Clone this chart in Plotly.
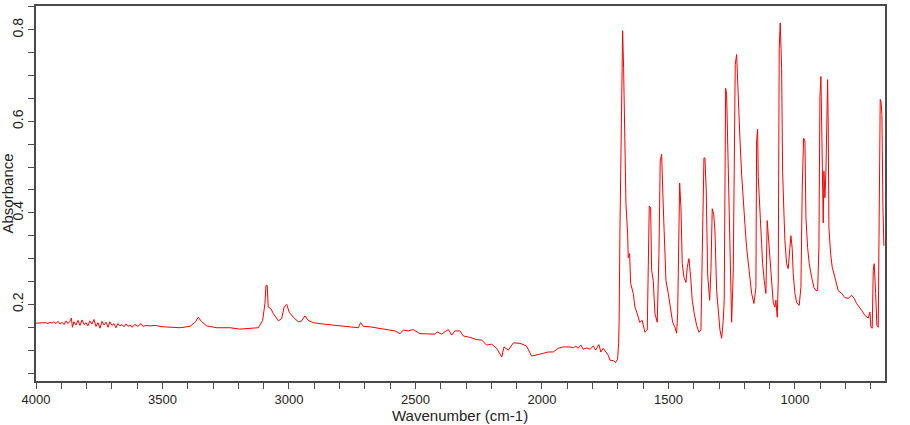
import plotly.graph_objects as go

# Region 1: noisy high-wavenumber baseline
wn_noise = [4000, 3984, 3968, 3961, 3953, 3945, 3937, 3929, 3921, 3913,
            3905, 3897, 3889, 3881, 3874, 3866, 3860, 3856, 3850, 3842,
            3834, 3826, 3818, 3810, 3802, 3795, 3787, 3779, 3771, 3763,
            3755, 3747, 3739, 3731, 3723, 3715, 3708, 3700, 3692, 3684,
            3676, 3668, 3660, 3652, 3644, 3636, 3628, 3621, 3609, 3597,
            3585, 3577, 3565, 3549, 3530]
ab_noise = [0.159, 0.159, 0.159, 0.160, 0.158, 0.161, 0.159, 0.162, 0.158, 0.163,
            0.157, 0.161, 0.156, 0.164, 0.158, 0.163, 0.170, 0.150, 0.162, 0.155,
            0.165, 0.154, 0.166, 0.156, 0.160, 0.153, 0.164, 0.157, 0.167, 0.152,
            0.160, 0.148, 0.163, 0.155, 0.161, 0.150, 0.162, 0.154, 0.158, 0.149,
            0.158, 0.153, 0.156, 0.151, 0.157, 0.152, 0.155, 0.150, 0.156, 0.152,
            0.158, 0.152, 0.154, 0.153, 0.154]

# Region 2: C-H stretch and mid baseline
wn_mid = [3497, 3431, 3391, 3369, 3359, 3345, 3325, 3286, 3233, 3194,
          3154, 3121, 3104, 3095, 3091, 3086, 3082, 3072, 3062, 3042,
          3029, 3019, 3009, 2999, 2983, 2963, 2950, 2937, 2924, 2904,
          2864, 2798, 2746, 2726, 2717, 2706, 2680, 2653, 2614, 2581,
          2561, 2548, 2529, 2509, 2482, 2456, 2423, 2414, 2397, 2381,
          2370, 2357, 2344, 2324, 2311, 2285, 2258, 2238, 2219, 2199,
          2179, 2159, 2150, 2133, 2113, 2087, 2061, 2041, 2021, 1995,
          1975, 1955, 1936, 1916, 1889, 1876, 1866, 1857, 1846, 1837,
          1823, 1810, 1797, 1788, 1775, 1767, 1758, 1747, 1738, 1731,
          1718, 1709, 1701, 1697, 1695]
ab_mid = [0.151, 0.149, 0.152, 0.162, 0.172, 0.162, 0.153, 0.149, 0.149, 0.146,
          0.147, 0.149, 0.165, 0.202, 0.241, 0.241, 0.194, 0.191, 0.180, 0.164,
          0.169, 0.194, 0.200, 0.183, 0.172, 0.162, 0.164, 0.175, 0.165, 0.160,
          0.157, 0.153, 0.149, 0.149, 0.160, 0.152, 0.151, 0.149, 0.146, 0.142,
          0.136, 0.144, 0.142, 0.145, 0.136, 0.135, 0.135, 0.140, 0.135, 0.141,
          0.145, 0.133, 0.142, 0.142, 0.131, 0.128, 0.123, 0.122, 0.111, 0.113,
          0.104, 0.085, 0.107, 0.100, 0.116, 0.115, 0.109, 0.087, 0.089, 0.093,
          0.096, 0.096, 0.104, 0.107, 0.107, 0.105, 0.109, 0.104, 0.111, 0.102,
          0.105, 0.102, 0.109, 0.100, 0.112, 0.096, 0.104, 0.096, 0.089, 0.078,
          0.077, 0.073, 0.080, 0.115, 0.159]

# Region 3: fingerprint region
wn_fp = [1691.8, 1685.0, 1681.1, 1677.2, 1672.0, 1668.0, 1661.3, 1658.9, 1653.4, 1649.5,
         1639.1, 1632.4, 1623.4, 1613.9, 1603.6, 1593.0, 1583.8, 1579.9, 1575.9, 1570.4,
         1566.4, 1560.1, 1553.4, 1544.3, 1537.6, 1532.5, 1526.9, 1520.6, 1516.6, 1509.9,
         1500.8, 1494.1, 1483.4, 1474.2, 1467.6, 1463.6, 1458.5, 1455.7, 1450.6, 1445.4,
         1438.7, 1430.8, 1425.7, 1419.0, 1412.2, 1405.9, 1398.0, 1388.5, 1379.4, 1371.6,
         1366.4, 1359.7, 1355.8, 1350.6, 1345.1, 1337.2, 1332.0, 1326.9, 1321.4, 1316.2,
         1309.5, 1303.2, 1296.4, 1289.8, 1283.4, 1279.5, 1276.7, 1274.0, 1270.0, 1264.9,
         1259.7, 1255.7, 1250.2, 1243.9, 1240.0, 1236.0, 1230.5, 1225.4, 1217.5, 1210.7,
         1204.4, 1197.7, 1191.0, 1184.6, 1177.9, 1171.2, 1162.2, 1154.2, 1151.5, 1147.5,
         1145.1, 1138.5, 1134.5, 1127.8, 1121.4, 1114.7, 1109.6, 1105.6, 1098.9, 1092.2,
         1085.8, 1079.1, 1075.2, 1070.0, 1066.1, 1062.1, 1058.2, 1052.6, 1048.7, 1043.5,
         1039.6, 1032.9, 1026.6, 1019.9, 1015.9, 1010.8, 1006.8, 1000.1, 993.4, 983.1,
         976.3, 971.2, 965.7, 960.5, 956.5, 949.9, 943.5, 934.0, 924.9, 917.0,
         910.3, 905.2, 901.2, 897.3, 894.5, 892.1, 888.2, 885.4, 881.5, 877.5,
         874.8, 870.8, 868.4, 865.7, 859.0, 852.6, 842.0, 828.9, 815.4, 802.4,
         789.4, 775.9, 765.6, 756.2, 736.4, 723.4, 710.3, 703.6, 699.6, 694.5,
         690.5, 686.6, 681.1, 676.0, 670.8, 666.9, 662.9, 660.1, 656.2, 652.2,
         648.3]
ab_fp = [0.361, 0.670, 0.798, 0.715, 0.572, 0.420, 0.354, 0.302, 0.311, 0.246,
         0.224, 0.194, 0.180, 0.161, 0.165, 0.139, 0.144, 0.259, 0.415, 0.411,
         0.274, 0.252, 0.180, 0.161, 0.311, 0.513, 0.528, 0.415, 0.346, 0.252,
         0.224, 0.202, 0.161, 0.150, 0.137, 0.180, 0.420, 0.465, 0.411, 0.289,
         0.259, 0.248, 0.281, 0.300, 0.259, 0.209, 0.180, 0.154, 0.139, 0.144,
         0.311, 0.520, 0.520, 0.448, 0.267, 0.209, 0.274, 0.409, 0.398, 0.361,
         0.230, 0.180, 0.144, 0.126, 0.165, 0.209, 0.411, 0.672, 0.659, 0.535,
         0.361, 0.281, 0.161, 0.270, 0.550, 0.724, 0.746, 0.659, 0.563, 0.485,
         0.441, 0.375, 0.324, 0.291, 0.246, 0.224, 0.202, 0.237, 0.557, 0.583,
         0.480, 0.411, 0.344, 0.289, 0.252, 0.224, 0.383, 0.354, 0.289, 0.237,
         0.204, 0.194, 0.209, 0.172, 0.246, 0.759, 0.815, 0.715, 0.491, 0.400,
         0.339, 0.289, 0.278, 0.324, 0.350, 0.322, 0.267, 0.224, 0.204, 0.198,
         0.237, 0.454, 0.563, 0.557, 0.389, 0.324, 0.289, 0.259, 0.237, 0.230,
         0.230, 0.324, 0.654, 0.698, 0.561, 0.463, 0.378, 0.491, 0.433, 0.491,
         0.615, 0.691, 0.594, 0.367, 0.311, 0.281, 0.259, 0.230, 0.224, 0.215,
         0.213, 0.220, 0.213, 0.202, 0.187, 0.176, 0.170, 0.183, 0.150, 0.148,
         0.274, 0.289, 0.224, 0.154, 0.150, 0.463, 0.648, 0.644, 0.615, 0.411,
         0.328]

x_tick_vals = [4000, 3500, 3000, 2500, 2000, 1500, 1000]
x_tick_text = ["4000", "3500", "3000", "2500", "2000", "1500", "1000"]
y_tick_vals = [0.2, 0.4, 0.6, 0.8]
y_tick_text = ["0.2", "0.4", "0.6", "0.8"]

x_title = "Wavenumber (cm-1)"
y_title = "Absorbance"

wn = wn_noise + wn_mid + wn_fp
ab = ab_noise + ab_mid + ab_fp
n = min(len(wn), len(ab))
wn, ab = wn[:n], ab[:n]

axis_color = "#4a4a4a"
text_color = "#222222"

fig = go.Figure(go.Scatter(x=wn, y=ab, mode="lines",
                           line=dict(color="#FF0000", width=1)))

fig.update_layout(
    width=910, height=425,
    margin=dict(l=36, r=25, t=4, b=44),
    paper_bgcolor="white", plot_bgcolor="white",
    showlegend=False,
    font=dict(family="Liberation Sans, Arial, sans-serif", size=13, color=text_color),
    xaxis=dict(
        range=[4000, 644],
        tickmode="array", tickvals=x_tick_vals, ticktext=x_tick_text,
        ticks="outside", ticklen=6, tickcolor=axis_color, tickwidth=1,
        minor=dict(dtick=100, tick0=0, ticks="outside", ticklen=6,
                   tickcolor=axis_color, tickwidth=1, showgrid=False),
        showline=True, linecolor=axis_color, linewidth=1.5, mirror=True,
        showgrid=False, zeroline=False,
        tickfont=dict(size=13, color=text_color),
    ),
    yaxis=dict(
        range=[0.0326, 0.852],
        tickmode="array", tickvals=y_tick_vals, ticktext=y_tick_text,
        tickangle=-90,
        ticks="outside", ticklen=6, tickcolor=axis_color, tickwidth=1,
        minor=dict(dtick=0.05, tick0=0, ticks="outside", ticklen=6,
                   tickcolor=axis_color, tickwidth=1, showgrid=False),
        showline=True, linecolor=axis_color, linewidth=1.5, mirror=True,
        showgrid=False, zeroline=False,
        tickfont=dict(size=14, color=text_color),
    ),
    annotations=[
        dict(text=x_title, xref="paper", yref="paper", x=0.4994, y=-0.093,
             xanchor="center", yanchor="middle", showarrow=False,
             font=dict(size=15, color=text_color)),
        dict(text=y_title, xref="paper", yref="paper", x=-0.033, y=0.5,
             xanchor="center", yanchor="middle", textangle=-90, showarrow=False,
             font=dict(size=15, color=text_color)),
    ],
)

fig.write_html("out.html")
